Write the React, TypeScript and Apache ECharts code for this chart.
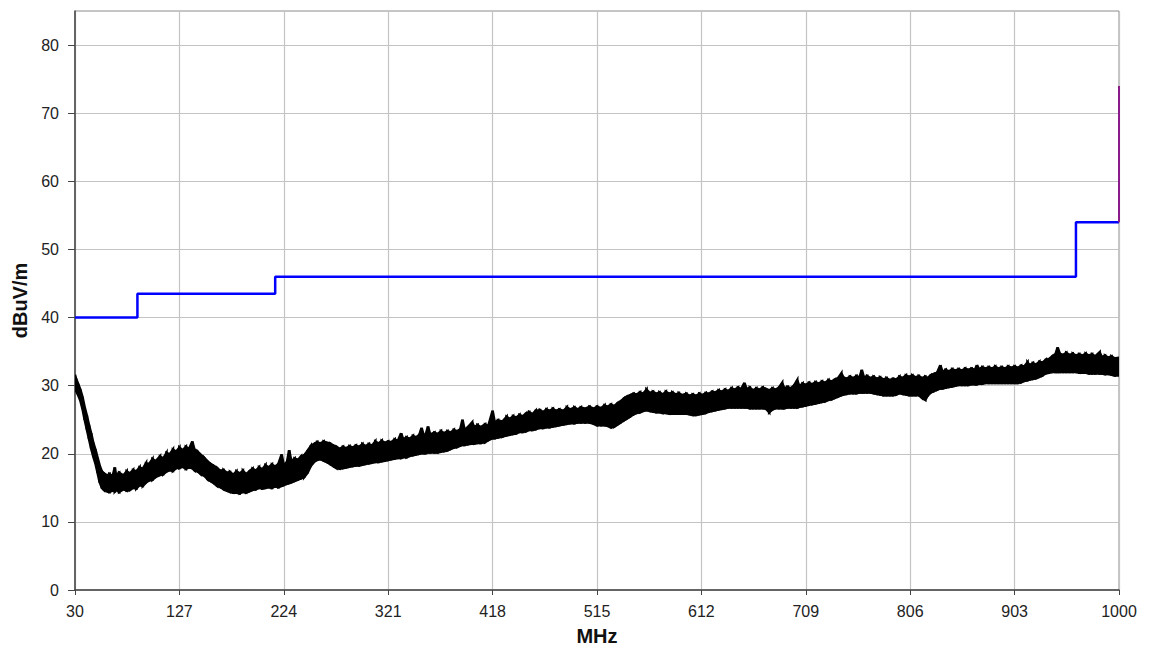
import React, { useEffect, useRef } from "react";
import * as echarts from "echarts";

// X axis ticks (MHz) and Y axis ticks (dBuV/m)
const xTicks = [30, 127, 224, 321, 418, 515, 612, 709, 806, 903, 1000];
const yTicks = [0, 10, 20, 30, 40, 50, 60, 70, 80];

// Limit line (blue), stepped
const limitFreq = [30, 88, 88, 216, 216, 960, 960, 1000];
const limitLevel = [40, 40, 43.5, 43.5, 46, 46, 54, 54];

// Purple marker at the end of the span
const markerFreq = [1000, 1000];
const markerLevel = [54, 74];

// Measured trace: [frequency MHz, lower edge dBuV/m, upper edge dBuV/m]
const traceRows: number[][] = [
  [30, 29.6, 31.6], [31, 29.2, 31.0], [33, 28.6, 30.2], [35, 27.8, 29.4], [37, 26.6, 28.3],
  [39, 25.0, 26.8], [41, 23.6, 25.6], [43, 22.2, 24.2], [45, 20.8, 23.0], [47, 19.6, 21.6],
  [49, 18.6, 20.6], [51, 17.2, 19.4], [53, 15.8, 18.2], [55, 15.0, 17.4], [57, 14.7, 17.1],
  [60, 14.5, 16.8], [62, 14.4, 17.0], [65, 14.6, 16.7], [67, 14.5, 18.0], [68, 14.7, 16.9],
  [71, 14.4, 17.2], [75, 14.8, 16.8], [78, 14.6, 17.4], [81, 14.7, 17.1], [84, 15.0, 17.6],
  [87, 14.9, 17.4], [90, 15.4, 18.0], [93, 15.3, 17.8], [96, 15.8, 18.6], [99, 16.1, 18.5],
  [102, 16.2, 19.2], [105, 16.6, 18.9], [109, 16.9, 19.6], [112, 17.0, 19.3], [115, 17.4, 20.1],
  [118, 17.6, 19.9], [121, 17.5, 20.6], [124, 17.9, 20.3], [127, 17.9, 20.9], [130, 18.1, 20.5],
  [133, 17.8, 21.0], [136, 18.0, 20.7], [139, 17.9, 21.8], [141, 17.6, 20.6], [144, 17.4, 20.3],
  [147, 17.0, 19.8], [150, 16.8, 19.4], [153, 16.3, 18.9], [156, 16.0, 18.5], [159, 15.7, 18.2],
  [162, 15.3, 17.9], [165, 15.1, 17.5], [168, 14.8, 17.6], [171, 14.6, 17.2], [174, 14.4, 17.3],
  [177, 14.3, 16.9], [180, 14.3, 17.4], [183, 14.2, 17.1], [186, 14.4, 17.5], [189, 14.3, 17.0],
  [192, 14.5, 17.4], [195, 14.7, 17.8], [198, 14.8, 17.5], [201, 15.0, 18.0], [204, 14.9, 17.7],
  [207, 15.0, 18.3], [210, 15.1, 18.0], [213, 15.0, 18.4], [216, 15.2, 18.1], [219, 15.1, 18.5],
  [222, 15.3, 19.9], [224, 15.4, 18.3], [227, 15.6, 18.8], [229, 15.7, 20.5], [231, 15.8, 18.9],
  [234, 16.0, 19.3], [237, 16.2, 19.1], [240, 16.4, 19.6], [243, 16.6, 19.8], [246, 17.2, 20.4],
  [249, 18.2, 21.1], [252, 18.8, 21.4], [255, 19.1, 21.7], [258, 19.2, 21.5], [261, 19.0, 21.8],
  [264, 18.8, 21.6], [267, 18.5, 21.5], [270, 18.2, 21.2], [273, 17.9, 21.0], [276, 17.8, 20.7],
  [279, 17.9, 21.0], [282, 18.0, 20.8], [285, 18.1, 21.1], [288, 18.2, 20.9], [291, 18.3, 21.2],
  [294, 18.3, 21.0], [297, 18.4, 21.4], [300, 18.5, 21.1], [303, 18.6, 21.4], [306, 18.7, 21.2],
  [309, 18.8, 21.8], [312, 18.8, 21.5], [315, 18.9, 21.9], [318, 19.0, 21.6], [321, 19.1, 21.8],
  [324, 19.2, 21.7], [327, 19.3, 22.1], [330, 19.4, 21.9], [333, 19.4, 23.0], [335, 19.5, 22.1],
  [338, 19.5, 22.4], [341, 19.7, 22.2], [344, 19.8, 22.6], [347, 19.9, 22.4], [350, 20.0, 22.8],
  [352, 20.1, 23.8], [354, 20.1, 22.7], [356, 20.1, 22.9], [358, 20.2, 24.0], [360, 20.2, 22.8],
  [364, 20.2, 23.1], [367, 20.2, 22.9], [370, 20.3, 23.3], [373, 20.4, 23.0], [376, 20.5, 23.3],
  [379, 20.7, 23.1], [382, 20.9, 23.5], [385, 21.0, 23.3], [388, 21.2, 23.6], [390, 21.3, 25.0],
  [392, 21.3, 23.5], [395, 21.4, 23.9], [399, 21.5, 24.6], [401, 21.5, 23.9], [404, 21.6, 24.2],
  [407, 21.6, 23.9], [411, 21.7, 24.3], [414, 22.0, 24.1], [418, 22.3, 26.3], [420, 22.3, 24.6],
  [423, 22.4, 24.9], [427, 22.5, 24.7], [431, 22.7, 25.4], [434, 22.8, 25.1], [437, 22.9, 25.5],
  [440, 23.0, 25.3], [443, 23.2, 25.7], [446, 23.2, 25.5], [449, 23.3, 25.9], [452, 23.5, 26.1],
  [455, 23.5, 25.8], [458, 23.6, 26.3], [462, 23.8, 26.4], [465, 23.8, 26.1], [468, 23.9, 26.5],
  [471, 23.9, 26.3], [474, 24.0, 26.6], [477, 24.1, 26.3], [480, 24.2, 26.5], [484, 24.3, 26.3],
  [487, 24.4, 26.8], [490, 24.5, 26.5], [494, 24.5, 26.8], [497, 24.6, 26.5], [500, 24.6, 26.8],
  [504, 24.6, 26.6], [508, 24.6, 26.9], [512, 24.4, 26.6], [515, 24.2, 26.9], [519, 24.2, 26.7],
  [522, 24.2, 27.1], [525, 24.1, 26.9], [528, 23.9, 27.2], [531, 24.0, 27.0], [534, 24.3, 27.4],
  [537, 24.6, 27.7], [540, 24.9, 28.1], [543, 25.2, 28.4], [546, 25.5, 28.6], [549, 25.8, 28.8],
  [552, 26.0, 28.7], [555, 26.1, 29.0], [558, 26.3, 28.8], [561, 26.4, 29.4], [564, 26.3, 28.9],
  [567, 26.2, 29.1], [570, 26.1, 28.8], [573, 26.1, 29.0], [576, 26.0, 28.7], [579, 26.0, 29.1],
  [582, 25.9, 28.8], [585, 25.9, 29.0], [588, 25.9, 28.7], [591, 25.9, 28.9], [594, 25.9, 28.6],
  [598, 25.9, 28.8], [601, 25.8, 28.5], [604, 25.7, 28.7], [607, 25.7, 28.5], [610, 25.8, 28.8],
  [613, 25.9, 28.6], [616, 26.0, 28.9], [619, 26.2, 28.8], [622, 26.3, 29.1], [625, 26.4, 29.0],
  [628, 26.5, 29.3], [631, 26.6, 29.1], [634, 26.7, 29.4], [637, 26.8, 29.2], [640, 26.8, 29.6],
  [643, 26.8, 29.4], [646, 26.8, 29.7], [649, 26.8, 29.5], [652, 26.8, 30.4], [654, 26.8, 29.5],
  [657, 26.7, 29.7], [660, 26.7, 29.3], [663, 26.7, 29.6], [666, 26.7, 29.4], [669, 26.7, 29.7],
  [672, 26.6, 29.5], [675, 26.1, 29.3], [678, 26.5, 29.6], [681, 26.7, 29.4], [684, 26.7, 29.7],
  [687, 26.7, 30.4], [689, 26.7, 29.6], [692, 26.8, 29.8], [695, 26.8, 29.6], [698, 26.8, 30.0],
  [701, 26.8, 30.8], [703, 26.9, 29.9], [706, 27.0, 30.3], [709, 27.1, 30.1], [712, 27.2, 30.4],
  [715, 27.3, 30.2], [718, 27.4, 30.5], [721, 27.5, 30.3], [724, 27.6, 30.6], [727, 27.7, 30.4],
  [730, 27.9, 30.8], [733, 28.0, 30.6], [736, 28.2, 30.9], [739, 28.4, 31.1], [742, 28.6, 31.8],
  [744, 28.7, 31.2], [747, 28.8, 31.0], [750, 28.9, 31.3], [753, 28.9, 31.1], [756, 28.9, 31.4],
  [759, 29.0, 31.2], [761, 29.0, 32.3], [763, 29.0, 31.2], [766, 29.0, 31.4], [769, 29.0, 31.1],
  [772, 28.9, 31.3], [775, 28.8, 31.0], [778, 28.7, 31.2], [781, 28.6, 30.9], [784, 28.6, 31.1],
  [787, 28.6, 30.8], [790, 28.6, 31.0], [793, 28.7, 30.9], [796, 28.9, 31.3], [799, 28.8, 31.1],
  [802, 28.7, 31.5], [805, 28.6, 31.3], [808, 28.6, 31.5], [811, 28.6, 31.2], [814, 28.6, 31.4],
  [817, 28.2, 31.1], [820, 27.9, 31.3], [822, 28.5, 31.1], [825, 29.0, 31.5], [828, 29.2, 31.7],
  [831, 29.4, 31.9], [834, 29.6, 33.0], [836, 29.6, 32.0], [839, 29.7, 32.3], [842, 29.8, 32.1],
  [845, 29.9, 32.4], [848, 30.0, 32.2], [851, 30.1, 32.4], [854, 30.1, 32.2], [857, 30.1, 32.5],
  [860, 30.1, 32.3], [863, 30.2, 32.5], [866, 30.2, 32.3], [868, 30.2, 33.0], [870, 30.3, 32.4],
  [873, 30.3, 32.7], [876, 30.4, 32.5], [879, 30.4, 32.7], [882, 30.4, 32.5], [885, 30.4, 32.8],
  [888, 30.4, 32.5], [891, 30.4, 32.7], [894, 30.4, 32.5], [897, 30.4, 32.8], [900, 30.4, 32.6],
  [903, 30.4, 32.8], [906, 30.4, 32.6], [909, 30.5, 32.9], [912, 30.7, 32.8], [915, 30.8, 33.4],
  [917, 30.9, 33.0], [920, 31.0, 33.3], [923, 31.1, 33.1], [926, 31.3, 33.5], [929, 31.5, 33.4],
  [932, 31.8, 33.8], [935, 31.9, 33.9], [938, 32.0, 34.3], [941, 32.0, 34.6], [943, 32.0, 35.6],
  [945, 32.0, 34.7], [948, 32.0, 34.5], [951, 32.0, 34.8], [954, 32.0, 34.5], [957, 32.0, 34.7],
  [960, 32.0, 34.4], [963, 31.9, 34.6], [966, 31.9, 34.4], [969, 31.9, 34.7], [972, 31.8, 34.4],
  [975, 31.8, 34.6], [978, 31.8, 34.3], [982, 31.8, 34.9], [984, 31.8, 34.2], [987, 31.7, 34.4],
  [990, 31.7, 34.1], [993, 31.6, 34.3], [996, 31.5, 34.0], [1000, 31.5, 34.1],
];

const FONT = "'Liberation Sans', Arial, sans-serif";

export default function App() {
  const ref = useRef<HTMLDivElement>(null);

  useEffect(() => {
    if (!ref.current) return;
    const chart = echarts.init(ref.current, null, { renderer: "svg" });

    const segments = traceRows.slice(1).map((r, i) => [
      traceRows[i][0], traceRows[i][1], traceRows[i][2], r[0], r[1], r[2],
    ]);

    const option: any = {
      animation: false,
      backgroundColor: "#ffffff",
      grid: {
        left: 75,
        right: 33,
        top: 11,
        bottom: 64,
        show: true,
        borderColor: "#8c8c8c",
        borderWidth: 1,
        backgroundColor: "transparent",
      },
      xAxis: {
        type: "value",
        min: 30,
        max: 1000,
        interval: 97,
        name: "MHz",
        nameLocation: "middle",
        nameGap: 36,
        nameTextStyle: { fontFamily: FONT, fontSize: 20, fontWeight: "bold", color: "#111" },
        axisLine: { show: true, onZero: false, lineStyle: { color: "#444", width: 1.5 } },
        axisTick: { show: true, length: 5, lineStyle: { color: "#444" } },
        axisLabel: {
          margin: 13,
          fontFamily: FONT,
          fontSize: 16,
          color: "#222",
          formatter: (v: number) => (xTicks.includes(v) ? String(v) : ""),
        },
        splitLine: { show: true, lineStyle: { color: "#c4c4c4", width: 1.2 } },
      },
      yAxis: {
        type: "value",
        min: 0,
        max: 85,
        interval: 10,
        name: "dBuV/m",
        nameLocation: "middle",
        nameGap: 42,
        nameRotate: 90,
        nameTextStyle: { fontFamily: FONT, fontSize: 20, fontWeight: "bold", color: "#111" },
        axisLine: { show: true, lineStyle: { color: "#444", width: 1.5 } },
        axisTick: { show: true, length: 7, customValues: yTicks, lineStyle: { color: "#444" } },
        axisLabel: {
          margin: 16,
          fontFamily: FONT,
          fontSize: 16,
          color: "#222",
          customValues: yTicks,
          formatter: (v: number) => (yTicks.includes(v) ? String(v) : ""),
        },
        splitLine: { show: true, lineStyle: { color: "#c4c4c4", width: 1.2 } },
      },
      series: [
        {
          type: "custom",
          name: "trace",
          silent: true,
          clip: true,
          data: segments,
          encode: { x: [0, 3], y: [1, 2, 4, 5] },
          renderItem: (params: any, api: any) => {
            const a = api.coord([api.value(0), api.value(1)]);
            const b = api.coord([api.value(0), api.value(2)]);
            const c = api.coord([api.value(3), api.value(5)]);
            const d = api.coord([api.value(3), api.value(4)]);
            return {
              type: "polygon",
              shape: { points: [a, b, c, d] },
              style: { fill: "#000", stroke: "#000", lineWidth: 2.6, lineJoin: "miter" },
            };
          },
        },
        {
          type: "line",
          name: "limit",
          silent: true,
          symbol: "none",
          data: limitFreq.map((f, i) => [f, limitLevel[i]]),
          lineStyle: { color: "#0000ff", width: 2.5 },
          z: 5,
        },
        {
          type: "line",
          name: "marker",
          silent: true,
          symbol: "none",
          clip: false,
          data: markerFreq.map((f, i) => [f, markerLevel[i]]),
          lineStyle: { color: "#8b1a8b", width: 2 },
          z: 6,
        },
      ],
    };

    chart.setOption(option);
    return () => chart.dispose();
  }, []);

  return (
    <div
      ref={ref}
      style={{ position: "absolute", left: 0, top: 0, width: 1152, height: 654 }}
    />
  );
}
